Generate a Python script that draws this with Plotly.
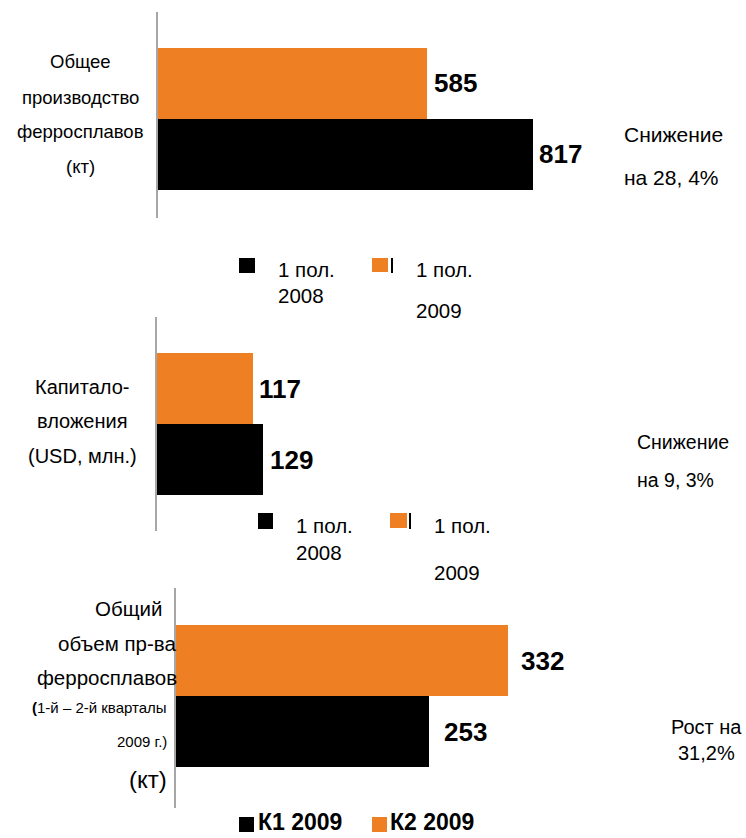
import plotly.graph_objects as go

# ---- data -------------------------------------------------------------
prod_2008_h1 = 817        # ferroalloy output, 1st half 2008, kt
prod_2009_h1 = 585        # ferroalloy output, 1st half 2009, kt
capex_2008_h1 = 129       # capital investment, USD mln
capex_2009_h1 = 117
q1_2009 = 253             # ferroalloy output by quarter 2009, kt
q2_2009 = 332

panel_values = [
    (prod_2008_h1, prod_2009_h1),
    (capex_2008_h1, capex_2009_h1),
    (q1_2009, q2_2009),
]
series_names = [("1 пол. 2008", "1 пол. 2009"),
                ("1 пол. 2008", "1 пол. 2009"),
                ("К1 2009", "К2 2009")]

BLACK = "#000000"
ORANGE = "#EE7F22"
AXIS_GREY = "#A6A6A6"
FONT = "Arial, Liberation Sans, sans-serif"

W, H = 746, 838


def fx(px):
    return px / W


def fy(px):
    return 1 - px / H


# per-panel geometry: axis x (px), px per unit, axis line top/bottom, bar top/bottom (px)
panels = [
    dict(x0=158, scale=375 / 817, line=(12, 218), bars=(48, 190), gaps=(4, 5)),
    dict(x0=157, scale=0.82, line=(317, 531), bars=(353, 495), gaps=(5, 4)),
    dict(x0=176, scale=1.0, line=(588, 808), bars=(625, 767), gaps=(13, 11)),
]
X_END = 597

fig = go.Figure()
annotations = []
shapes = []

for i, (p, vals, names) in enumerate(zip(panels, panel_values, series_names), start=1):
    xa = "x" if i == 1 else f"x{i}"
    ya = "y" if i == 1 else f"y{i}"
    # bottom bar (black) first, top bar (orange) second in the group
    for val, name, col in zip(vals, names, (BLACK, ORANGE)):
        fig.add_trace(go.Bar(
            x=[val], y=[0], orientation="h", name=name,
            marker=dict(color=col, line=dict(width=0)),
            xaxis=xa, yaxis=ya, showlegend=False, hoverinfo="x+name",
        ))
    bar_px = p["bars"][1] - p["bars"][0]
    ytop = 0.5 + (p["bars"][0] - p["line"][0]) / bar_px
    ybot = -0.5 - (p["line"][1] - p["bars"][1]) / bar_px
    key = "" if i == 1 else str(i)
    fig.layout["xaxis" + key] = dict(
        domain=[fx(p["x0"]), fx(X_END)], range=[0, (X_END - p["x0"]) / p["scale"]],
        visible=False, anchor=ya,
    )
    fig.layout["yaxis" + key] = dict(
        domain=[fy(p["line"][1]), fy(p["line"][0])], range=[ybot, ytop],
        showticklabels=False, showgrid=False, zeroline=False, ticks="",
        showline=True, linecolor=AXIS_GREY, linewidth=2, anchor=xa, fixedrange=True,
    )
    # value labels next to each bar
    for val, yy, gap in zip(vals, (-0.25, 0.25), p["gaps"]):
        annotations.append(dict(
            x=val, y=yy, xref=xa, yref=ya, text=f"<b>{val}</b>", showarrow=False,
            xanchor="left", yanchor="middle", xshift=gap,
            font=dict(family=FONT, size=26, color=BLACK),
        ))


def txt(x, y, text, size, anchor="left", bold=False):
    annotations.append(dict(
        x=fx(x), y=fy(y), xref="paper", yref="paper",
        text=f"<b>{text}</b>" if bold else text, showarrow=False,
        xanchor=anchor, yanchor="middle", borderpad=0,
        font=dict(family=FONT, size=size, color=BLACK),
    ))


def square(x0, y0, x1, y1, color):
    shapes.append(dict(type="rect", xref="paper", yref="paper",
                       x0=fx(x0), x1=fx(x1), y0=fy(y1), y1=fy(y0),
                       fillcolor=color, line=dict(width=0), layer="above"))


# ---- panel 1: total ferroalloy output ---------------------------------
for y, t in zip((62, 97, 132, 167), ("Общее", "производство", "ферросплавов", "(кт)")):
    txt(80, y, t, 18.5, "center")
txt(623, 134, "Снижение", 21)
txt(623, 177, "на 28, 4%", 21)

square(239, 258, 255, 273, BLACK)
txt(277, 270, "1 пол.", 20.5)
txt(277, 295, "2008", 20.5)
square(372, 258, 388, 272, ORANGE)
shapes.append(dict(type="line", xref="paper", yref="paper",
                   x0=fx(392), x1=fx(392), y0=fy(273), y1=fy(258),
                   line=dict(color=BLACK, width=2)))
txt(415, 270, "1 пол.", 20.5)
txt(415, 310, "2009", 20.5)

# ---- panel 2: capital investment --------------------------------------
for y, t in zip((387, 421, 456), ("Капитало-", "вложения", "(USD, млн.)")):
    txt(82, y, t, 20, "center")
txt(636, 442, "Снижение", 19.5)
txt(636, 480, "на 9, 3%", 19.5)

square(258, 513, 273, 529, BLACK)
txt(295, 525, "1 пол.", 20.5)
txt(295, 552, "2008", 20.5)
square(390, 513, 407, 528, ORANGE)
shapes.append(dict(type="line", xref="paper", yref="paper",
                   x0=fx(410), x1=fx(410), y0=fy(529), y1=fy(513),
                   line=dict(color=BLACK, width=2)))
txt(433, 525, "1 пол.", 20.5)
txt(433, 572, "2009", 20.5)

# ---- panel 3: quarterly output 2009 -----------------------------------
txt(163, 608, "Общий", 20.5, "right")
txt(177, 643, "объем пр-ва", 20.5, "right")
txt(178, 677, "ферросплавов", 20.5, "right")
txt(168, 707, "<b>(</b>1-й – 2-й кварталы", 15, "right")
txt(168, 741, "2009 г.)", 15, "right")
txt(168, 779, "(кт)", 24, "right")
txt(706, 727, "Рост на", 20, "center")
txt(706, 753, "31,2%", 20, "center")

square(239, 817, 254, 832, BLACK)
txt(257, 822, "К1 2009", 23, bold=True)
square(372, 817, 387, 832, ORANGE)
txt(389, 822, "К2 2009", 23, bold=True)

fig.update_layout(
    width=W, height=H, margin=dict(l=0, r=0, t=0, b=0),
    paper_bgcolor="white", plot_bgcolor="white",
    barmode="group", bargap=0, bargroupgap=0,
    showlegend=False, annotations=annotations, shapes=shapes,
    font=dict(family=FONT, color=BLACK),
)

fig.write_html("out.html")
